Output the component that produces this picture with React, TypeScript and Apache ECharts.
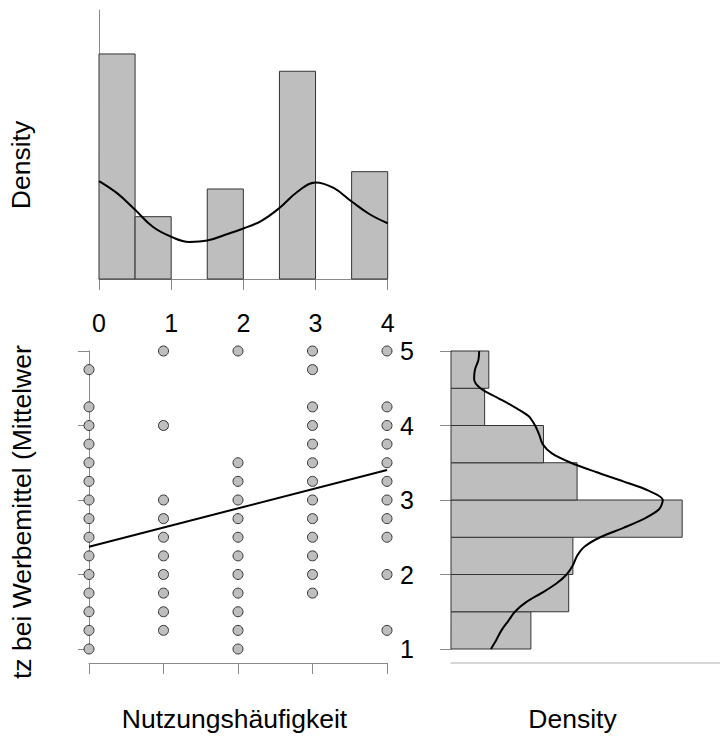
import React, { useEffect, useRef } from "react";
import * as echarts from "echarts";

// ---------- data ----------
// Scatter: Nutzungshäufigkeit (x) vs. mean acceptance (y), distinct points per x value
const scatterX0 = [4.75, 4.25, 4.0, 3.75, 3.5, 3.25, 3.0, 2.75, 2.5, 2.25, 2.0, 1.75, 1.5, 1.25, 1.0];
const scatterX1 = [5.0, 4.0, 3.0, 2.75, 2.5, 2.25, 2.0, 1.75, 1.5, 1.25];
const scatterX2 = [5.0, 3.5, 3.25, 3.0, 2.75, 2.5, 2.25, 2.0, 1.75, 1.5, 1.25, 1.0];
const scatterX3 = [5.0, 4.75, 4.25, 4.0, 3.75, 3.5, 3.25, 3.0, 2.75, 2.5, 2.25, 2.0, 1.75];
const scatterX4 = [5.0, 4.25, 4.0, 3.75, 3.5, 3.25, 3.0, 2.75, 2.5, 2.0, 1.25];
const scatterColumns = [scatterX0, scatterX1, scatterX2, scatterX3, scatterX4];

// Regression line endpoints (x, fitted y)
const regressionLine = [
  [0, 2.373],
  [4, 3.403],
];

// Top histogram (x marginal): bin edges and densities
const topBinStarts = [0, 0.5, 1.0, 1.5, 2.0, 2.5, 3.0, 3.5];
const topBinWidth = 0.5;
const topDensity = [0.65, 0.18, 0, 0.26, 0, 0.6, 0, 0.31];

// Top kernel density curve
const topKdeX = [0, 0.25, 0.5, 0.75, 1.0, 1.25, 1.5, 1.75, 2.0, 2.25, 2.5, 2.75, 3.0, 3.25, 3.5, 3.75, 4.0];
const topKdeY = [0.283, 0.248, 0.2, 0.15, 0.122, 0.107, 0.111, 0.128, 0.146, 0.168, 0.205, 0.252, 0.279, 0.263, 0.224, 0.187, 0.161];

// Right histogram (y marginal): bin edges and densities
const rightBinStarts = [1.0, 1.5, 2.0, 2.5, 3.0, 3.5, 4.0, 4.5];
const rightBinWidth = 0.5;
const rightDensity = [0.19, 0.28, 0.29, 0.55, 0.3, 0.22, 0.08, 0.09];

// Right kernel density curve (y value, density)
const rightKdeY = [
  1.0, 1.125, 1.25, 1.375, 1.5, 1.625, 1.75, 1.875, 2.0, 2.125, 2.25, 2.375, 2.5, 2.625, 2.75, 2.875, 3.0,
  3.125, 3.25, 3.375, 3.5, 3.625, 3.75, 3.875, 4.0, 4.125, 4.25, 4.375, 4.5, 4.625, 4.75, 4.875, 5.0,
];
const rightKdeD = [
  0.095, 0.108, 0.12, 0.136, 0.152, 0.178, 0.215, 0.25, 0.275, 0.29, 0.3, 0.318, 0.355, 0.41, 0.46, 0.495, 0.504,
  0.47, 0.41, 0.345, 0.285, 0.24, 0.218, 0.21, 0.2, 0.185, 0.15, 0.11, 0.07, 0.055, 0.057, 0.065, 0.067,
];

const xTicks = ["0", "1", "2", "3", "4"];
const yTicks = ["1", "2", "3", "4", "5"];

const FONT = "'Liberation Sans', Arial, Helvetica, sans-serif";
const AXIS_COLOR = "#8a8a8a";
const TICK_FONT = 25;
const TITLE_FONT = 26.5;

export default function App() {
  const ref = useRef<HTMLDivElement>(null);

  useEffect(() => {
    if (!ref.current) return;
    const chart = echarts.init(ref.current, undefined, { renderer: "svg" });

    const scatterData: number[][] = [];
    scatterColumns.forEach((col, xi) => col.forEach((y) => scatterData.push([xi, y])));

    const topHistData = topBinStarts
      .map((s, i) => [s, s + topBinWidth, topDensity[i]])
      .filter((d) => d[2] > 0);
    const rightHistData = rightBinStarts.map((s, i) => [rightDensity[i], s, s + rightBinWidth]);

    const tickStyle = { show: true, inside: false, length: 11, lineStyle: { color: AXIS_COLOR, width: 1 } };
    const lineStyle = { show: true, lineStyle: { color: AXIS_COLOR, width: 1 } };

    const option: any = {
      animation: false,
      backgroundColor: "#ffffff",
      textStyle: { fontFamily: FONT },
      grid: [
        { left: 99, top: 10, width: 288.7, height: 269 },
        { left: 89, top: 351, width: 298, height: 298 },
        { left: 451, top: 351, width: 269, height: 298 },
      ],
      xAxis: [
        {
          gridIndex: 0,
          type: "value",
          min: 0,
          max: 4,
          interval: 1,
          offset: 13,
          axisLine: lineStyle,
          axisTick: tickStyle,
          axisLabel: {
            show: true,
            fontSize: TICK_FONT,
            color: "#000",
            fontFamily: FONT,
            margin: 18,
            formatter: (v: number) => xTicks[Math.round(v)] ?? "",
          },
          splitLine: { show: false },
        },
        {
          gridIndex: 1,
          type: "value",
          min: 0,
          max: 4,
          interval: 1,
          offset: 14,
          axisLine: lineStyle,
          axisTick: tickStyle,
          axisLabel: { show: false },
          splitLine: { show: false },
        },
        {
          gridIndex: 2,
          type: "value",
          min: 0,
          max: 0.64,
          offset: 14,
          axisLine: { show: true, lineStyle: { color: "#c8c8c8", width: 1.5 } },
          axisTick: { show: false },
          axisLabel: { show: false },
          splitLine: { show: false },
        },
      ],
      yAxis: [
        {
          gridIndex: 0,
          type: "value",
          min: 0,
          max: 0.777,
          offset: 15,
          axisLine: lineStyle,
          axisTick: { show: false },
          axisLabel: { show: false },
          splitLine: { show: false },
        },
        {
          gridIndex: 1,
          type: "value",
          min: 1,
          max: 5,
          interval: 1,
          offset: 15,
          axisLine: lineStyle,
          axisTick: tickStyle,
          axisLabel: { show: false },
          splitLine: { show: false },
        },
        {
          gridIndex: 2,
          type: "value",
          min: 1,
          max: 5,
          interval: 1,
          offset: 14,
          axisLine: lineStyle,
          axisTick: tickStyle,
          axisLabel: {
            show: true,
            fontSize: TICK_FONT,
            color: "#000",
            fontFamily: FONT,
            margin: 23,
            formatter: (v: number) => yTicks[Math.round(v) - 1] ?? "",
          },
          splitLine: { show: false },
        },
      ],
      series: [
        {
          type: "custom",
          xAxisIndex: 0,
          yAxisIndex: 0,
          data: topHistData,
          encode: { x: [0, 1], y: 2 },
          renderItem: (_p: any, api: any) => {
            const a = api.coord([api.value(0), 0]);
            const b = api.coord([api.value(1), api.value(2)]);
            return {
              type: "rect",
              shape: { x: a[0], y: b[1], width: b[0] - a[0], height: a[1] - b[1] },
              style: { fill: "#bebebe", stroke: "#333", lineWidth: 1 },
            };
          },
          z: 1,
        },
        {
          type: "line",
          xAxisIndex: 0,
          yAxisIndex: 0,
          data: topKdeX.map((x, i) => [x, topKdeY[i]]),
          smooth: 0.4,
          symbol: "none",
          lineStyle: { color: "#000", width: 2 },
          z: 3,
        },
        {
          type: "scatter",
          xAxisIndex: 1,
          yAxisIndex: 1,
          data: scatterData,
          symbol: "circle",
          symbolSize: 10,
          itemStyle: { color: "#bebebe", borderColor: "#333", borderWidth: 1, opacity: 1 },
          z: 2,
        },
        {
          type: "line",
          xAxisIndex: 1,
          yAxisIndex: 1,
          data: regressionLine,
          symbol: "none",
          lineStyle: { color: "#000", width: 2 },
          z: 3,
        },
        {
          type: "custom",
          xAxisIndex: 2,
          yAxisIndex: 2,
          data: rightHistData,
          encode: { x: 0, y: [1, 2] },
          renderItem: (_p: any, api: any) => {
            const a = api.coord([0, api.value(1)]);
            const b = api.coord([api.value(0), api.value(2)]);
            return {
              type: "rect",
              shape: { x: a[0], y: b[1], width: b[0] - a[0], height: a[1] - b[1] },
              style: { fill: "#bebebe", stroke: "#333", lineWidth: 1 },
            };
          },
          z: 1,
        },
        {
          type: "line",
          xAxisIndex: 2,
          yAxisIndex: 2,
          data: rightKdeY.map((y, i) => [rightKdeD[i], y]),
          smooth: 0.3,
          symbol: "none",
          lineStyle: { color: "#000", width: 2 },
          z: 3,
        },
      ],
      graphic: [
        {
          type: "text",
          x: 21,
          y: 165,
          rotation: Math.PI / 2,
          style: {
            text: "Density",
            fontSize: TITLE_FONT,
            fontFamily: FONT,
            fill: "#000",
            align: "center",
            verticalAlign: "middle",
          },
        },
        {
          type: "text",
          x: 22,
          y: 679,
          rotation: Math.PI / 2,
          style: {
            text: "tz bei Werbemittel (Mittelwer",
            fontSize: TITLE_FONT,
            fontFamily: FONT,
            fill: "#000",
            align: "left",
            verticalAlign: "middle",
          },
        },
        {
          type: "text",
          x: 234.5,
          y: 719,
          style: {
            text: "Nutzungshäufigkeit",
            fontSize: TITLE_FONT,
            fontFamily: FONT,
            fill: "#000",
            align: "center",
            verticalAlign: "middle",
          },
        },
        {
          type: "text",
          x: 572.5,
          y: 719,
          style: {
            text: "Density",
            fontSize: TITLE_FONT,
            fontFamily: FONT,
            fill: "#000",
            align: "center",
            verticalAlign: "middle",
          },
        },
      ],
    };

    chart.setOption(option);
    return () => chart.dispose();
  }, []);

  return (
    <div
      ref={ref}
      style={{ position: "fixed", left: 0, top: 0, width: 720, height: 736, background: "#fff" }}
    />
  );
}
